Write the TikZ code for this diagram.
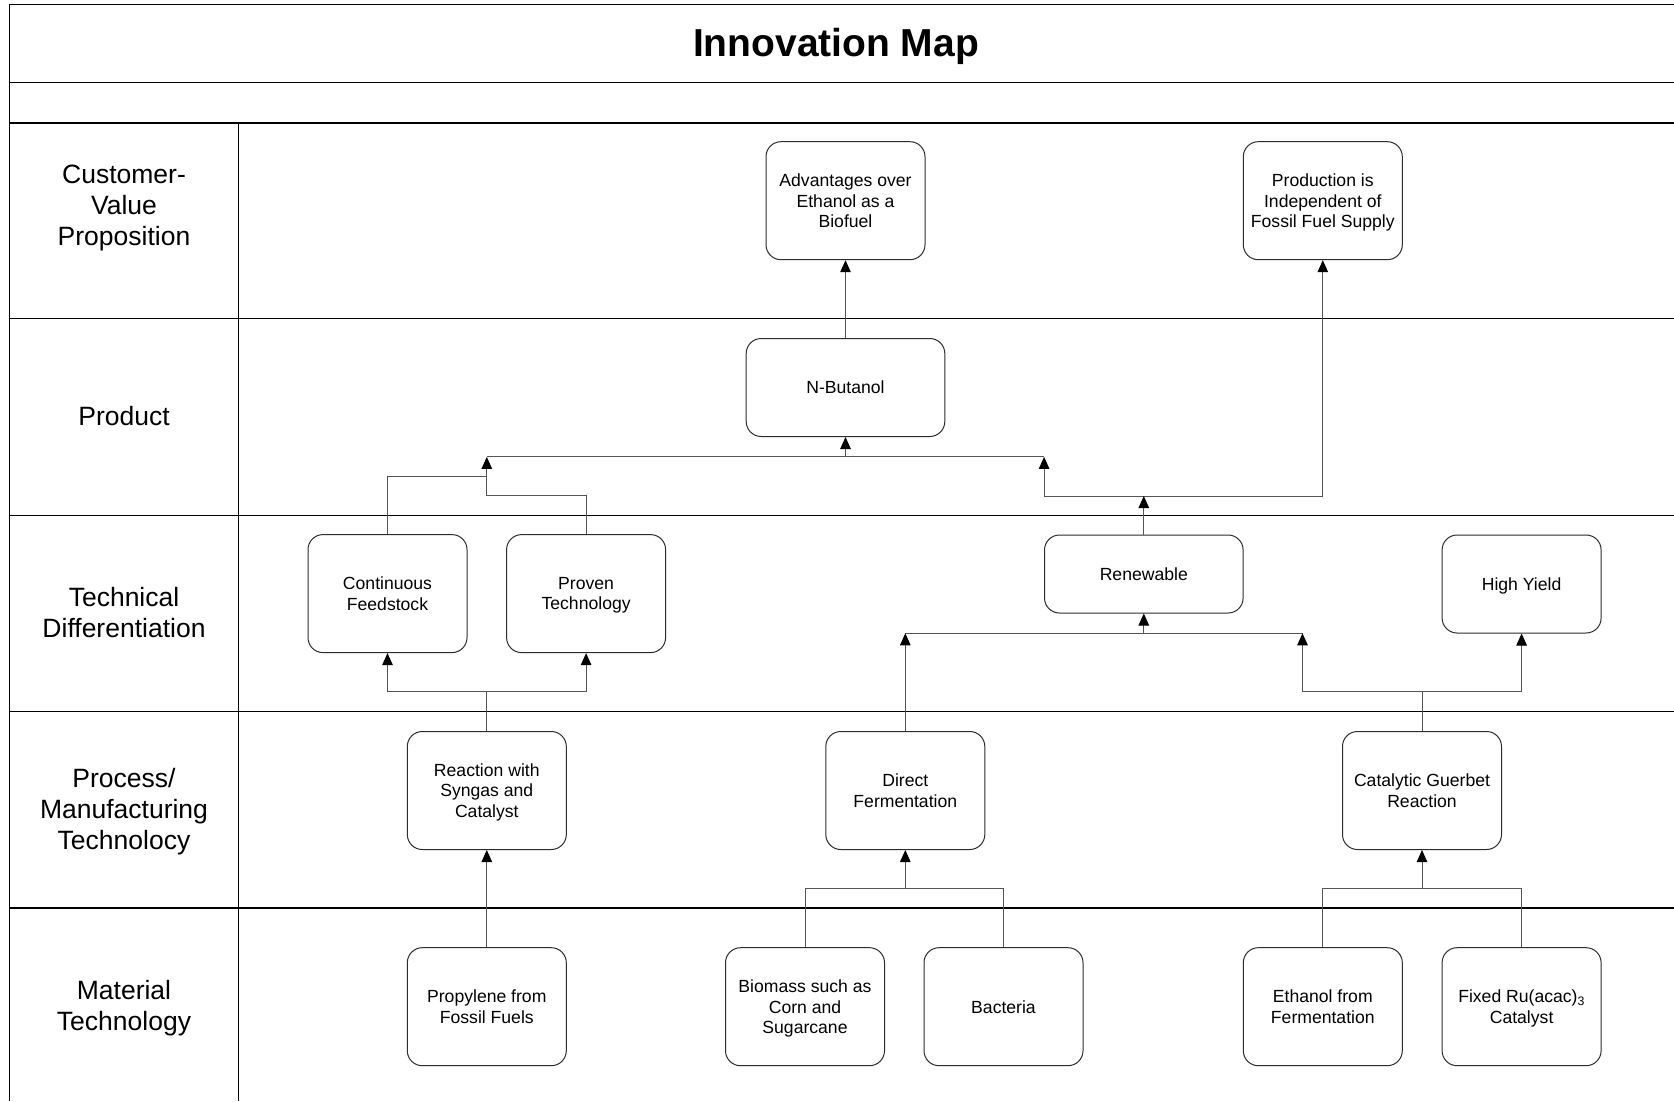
\documentclass[tikz,border=0pt]{standalone}
\usepackage{fontspec}
\setmainfont{Liberation Sans}
\usetikzlibrary{arrows.meta}
\definecolor{connc}{RGB}{85,85,85}
\definecolor{boxc}{RGB}{45,45,45}
\begin{document}
\begin{tikzpicture}[x=1pt,y=-1pt,
  box/.style={draw=boxc, line width=1pt, rounded corners=15pt, minimum width=159pt, minimum height=118pt, inner sep=0pt, align=center, font=\fontsize{17.6}{20.3}\selectfont, text depth=0pt},
  conn/.style={draw=connc, line width=1pt},
  arr/.style={conn, -{Triangle[width=10.5pt,length=12pt,color=black]}},
  rowline/.style={line width=1.3pt, black},
  rowlab/.style={align=center, font=\fontsize{26.5}{31}\selectfont, text depth=0pt}]
\useasboundingbox (0,0) rectangle (1674,1101);
\fill[white] (0,0) rectangle (1674,1101);
% frame and rows
\draw[rowline] (9.6,1101) -- (9.6,4.3) -- (1674,4.3);
\foreach \yy in {82.5,123,318.5,515.5,711.5,908} \draw[rowline] (9.6,\yy) -- (1674,\yy);
\draw[rowline] (238.4,123) -- (238.4,1101);
% title
\node[font=\fontsize{39}{45}\selectfont\bfseries] (title) at (836,46.5) {Innovation Map};
% row labels
\node[rowlab] (lcvp) at (124,205) {Customer-\\Value\\Proposition};
\node[rowlab] (lprod) at (124,416) {Product};
\node[rowlab] (ltd) at (124,612.5) {Technical\\Differentiation};
\node[rowlab] (lpm) at (124,808.5) {Process/\\Manufacturing\\Technolocy};
\node[rowlab] (lmat) at (124,1005) {Material\\Technology};
% boxes
\node[box] (adv) at (845.5,200.7) {Advantages over\\Ethanol as a\\Biofuel};
\node[box] (prod) at (1322.8,200.7) {Production is\\Independent of\\Fossil Fuel Supply};
\node[box, minimum width=198.6pt, minimum height=98pt] (nbut) at (845.5,387.5) {N-Butanol};
\node[box] (cont) at (387.5,593.6) {Continuous\\Feedstock};
\node[box] (prov) at (586.1,593.6) {Proven\\Technology};
\node[box, minimum width=198.6pt, minimum height=78pt] (renew) at (1143.8,574) {Renewable};
\node[box, minimum height=98pt] (high) at (1521.6,584) {High Yield};
\node[box] (react) at (486.8,790.5) {Reaction with\\Syngas and\\Catalyst};
\node[box] (dfer) at (905.3,790.5) {Direct\\Fermentation};
\node[box] (guer) at (1422,790.5) {Catalytic Guerbet\\Reaction};
\node[box] (prop) at (486.8,1006.7) {Propylene from\\Fossil Fuels};
\node[box] (bio) at (805,1006.7) {Biomass such as\\Corn and\\Sugarcane};
\node[box] (bact) at (1003.5,1006.7) {Bacteria};
\node[box] (eth) at (1322.8,1006.7) {Ethanol from\\Fermentation};
\node[box] (fix) at (1521.6,1006.7) {Fixed Ru(acac)\textsubscript{3}\\Catalyst};
% junction coordinates
\coordinate (busL) at (486.8,456.9);
\coordinate (busR) at (1044.1,456.9);
\coordinate (jA) at (486.8,476.2);
\coordinate (jB) at (486.8,495.4);
\coordinate (jC) at (1044.1,496);
\coordinate (rbL) at (905.3,633.3);
\coordinate (rbR) at (1302.5,633.3);
\coordinate (gL) at (1302.5,691.8);
\coordinate (gj) at (1422,691.8);
\coordinate (rj) at (486.8,691.8);
\coordinate (mb1) at (905.3,888);
\coordinate (mb2) at (1422,888);
% product level
\draw[arr] (nbut.north) -- (adv.south);
\draw[conn] (busL) -- (busR);
\draw[arr] (nbut.south |- busL) -- (nbut.south);
\draw[conn] (cont.north) |- (jA);
\draw[conn] (prov.north) |- (jB) -- (jA);
\draw[arr] (jA) -- (busL);
\draw[arr] (jC) -- (busR);
\draw[conn] (jC) -- (jC -| prod.south);
\draw[arr] (jC -| prod.south) -- (prod.south);
\draw[arr] (renew.north) -- (renew.north |- jC);
% technical differentiation level
\draw[conn] (rbL) -- (rbR);
\draw[arr] (renew.south |- rbL) -- (renew.south);
\draw[arr] (dfer.north) -- (rbL);
\draw[conn] (guer.north) -- (gj);
\draw[conn] (gL) -- (high.south |- gj);
\draw[arr] (gL) -- (rbR);
\draw[arr] (high.south |- gj) -- (high.south);
\draw[conn] (react.north) -- (rj);
\draw[conn] (cont.south |- rj) -- (prov.south |- rj);
\draw[arr] (cont.south |- rj) -- (cont.south);
\draw[arr] (prov.south |- rj) -- (prov.south);
% material level
\draw[arr] (prop.north) -- (react.south);
\draw[conn] (bio.north) -- (bio.north |- mb1) -- (bact.north |- mb1) -- (bact.north);
\draw[arr] (mb1) -- (dfer.south);
\draw[conn] (eth.north) -- (eth.north |- mb2) -- (fix.north |- mb2) -- (fix.north);
\draw[arr] (mb2) -- (guer.south);
\end{tikzpicture}
\end{document}
